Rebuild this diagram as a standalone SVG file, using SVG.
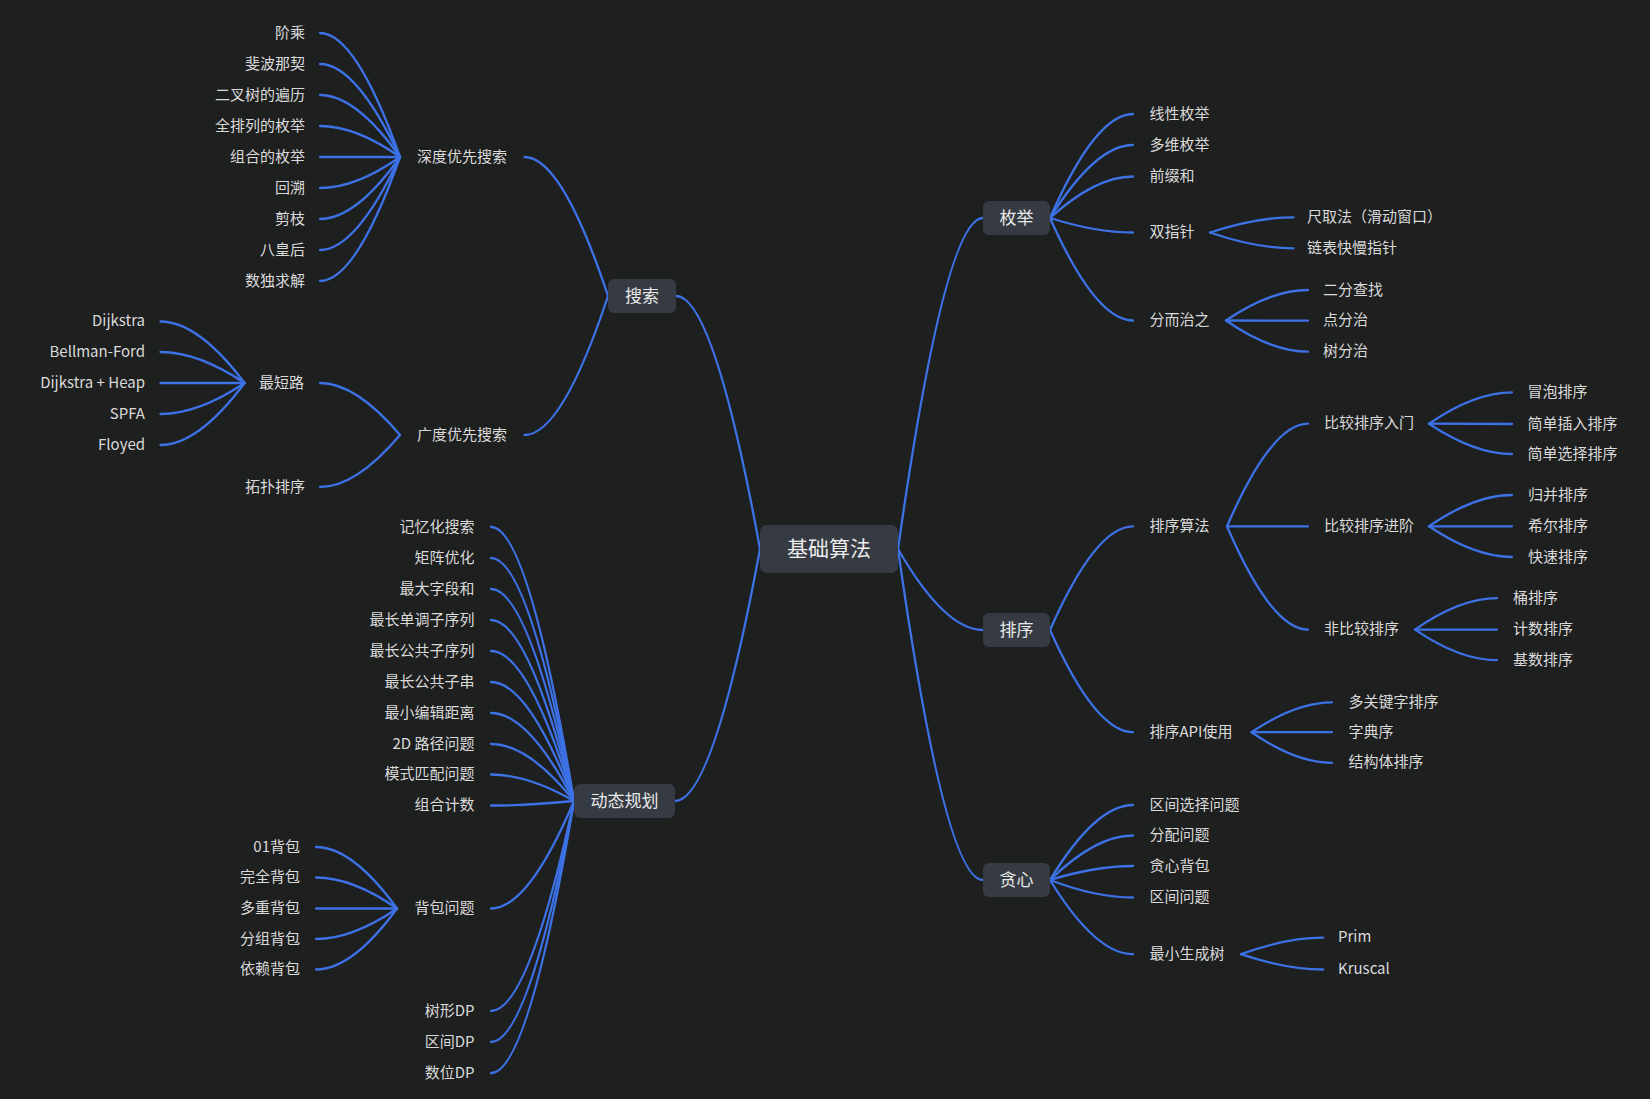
<svg xmlns="http://www.w3.org/2000/svg" width="1650" height="1099" viewBox="0 0 1650 1099">
<style>
.bg{fill:#1e1f1f}
.box{fill:#363b43}
.c path{fill:none;stroke:#3d71e6;stroke-width:2.3;stroke-linecap:round}
text{font-family:"Noto Sans CJK SC","Noto Sans",sans-serif;dominant-baseline:central;transform:translate(0px,-2px)}
.leaf{font-size:15px;fill:#dadada}
.l1{font-size:17px;fill:#e8e8e8;text-anchor:middle}
.root{font-size:21px;fill:#ececec;text-anchor:middle}
.e{text-anchor:end}
</style>
<rect class="bg" x="0" y="0" width="1650" height="1099"/>
<g id="connectors" class="c">
<path d="M760 549 Q713.8 296 676 296"/>
<path d="M760 549 Q713.3 801 675 801"/>
<path d="M898 549 Q944.8 218 983 218"/>
<path d="M898 549 Q944.8 630 983 630"/>
<path d="M898 549 Q944.8 880 983 880"/>
<path d="M608 296 Q562 157 524.5 157"/>
<path d="M608 296 Q562 435 524.5 435"/>
<path d="M400 157 Q356 33 320 33"/>
<path d="M400 157 Q356 64 320 64"/>
<path d="M400 157 Q356 95 320 95"/>
<path d="M400 157 Q356 126 320 126"/>
<path d="M400 157 Q356 157 320 157"/>
<path d="M400 157 Q356 188 320 188"/>
<path d="M400 157 Q356 219 320 219"/>
<path d="M400 157 Q356 250 320 250"/>
<path d="M400 157 Q356 281 320 281"/>
<path d="M400 435 Q356 383 320 383"/>
<path d="M400 435 Q356 487 320 487"/>
<path d="M244.6 383 Q198.3 321.5 160.5 321.5"/>
<path d="M244.6 383 Q198.3 352 160.5 352"/>
<path d="M244.6 383 Q198.3 383 160.5 383"/>
<path d="M244.6 383 Q198.3 414 160.5 414"/>
<path d="M244.6 383 Q198.3 445 160.5 445"/>
<path d="M574 801 Q528.4 527 491 527"/>
<path d="M574 801 Q528.4 558 491 558"/>
<path d="M574 801 Q528.4 589 491 589"/>
<path d="M574 801 Q528.4 620 491 620"/>
<path d="M574 801 Q528.4 651 491 651"/>
<path d="M574 801 Q528.4 682 491 682"/>
<path d="M574 801 Q528.4 713 491 713"/>
<path d="M574 801 Q528.4 744 491 744"/>
<path d="M574 801 Q528.4 774.5 491 774.5"/>
<path d="M574 801 Q528.4 805.5 491 805.5"/>
<path d="M574 801 Q528.4 908.5 491 908.5"/>
<path d="M574 801 Q528.4 1011 491 1011"/>
<path d="M574 801 Q528.4 1042 491 1042"/>
<path d="M574 801 Q528.4 1073 491 1073"/>
<path d="M397 908.5 Q352.5 847 316 847"/>
<path d="M397 908.5 Q352.5 877.5 316 877.5"/>
<path d="M397 908.5 Q352.5 908.5 316 908.5"/>
<path d="M397 908.5 Q352.5 939 316 939"/>
<path d="M397 908.5 Q352.5 969.5 316 969.5"/>
<path d="M1050 218 Q1095.6 114 1133 114"/>
<path d="M1050 218 Q1095.6 145 1133 145"/>
<path d="M1050 218 Q1095.6 176.5 1133 176.5"/>
<path d="M1050 218 Q1095.6 232.5 1133 232.5"/>
<path d="M1050 218 Q1095.6 320.5 1133 320.5"/>
<path d="M1210 232.5 Q1255.9 217.3 1293.5 217.3"/>
<path d="M1210 232.5 Q1255.9 248.3 1293.5 248.3"/>
<path d="M1226 320.5 Q1271.1 290 1308 290"/>
<path d="M1226 320.5 Q1271.1 320.7 1308 320.7"/>
<path d="M1226 320.5 Q1271.1 351.7 1308 351.7"/>
<path d="M1050 630 Q1095.6 526.3 1133 526.3"/>
<path d="M1050 630 Q1095.6 732.2 1133 732.2"/>
<path d="M1227 526.3 Q1271.5 423.7 1308 423.7"/>
<path d="M1227 526.3 Q1271.5 526.3 1308 526.3"/>
<path d="M1227 526.3 Q1271.5 629.6 1308 629.6"/>
<path d="M1429 423.7 Q1474.6 392.3 1512 392.3"/>
<path d="M1429 423.7 Q1474.6 424 1512 424"/>
<path d="M1429 423.7 Q1474.6 454 1512 454"/>
<path d="M1429 526.3 Q1474.6 495 1512 495"/>
<path d="M1429 526.3 Q1474.6 526.3 1512 526.3"/>
<path d="M1429 526.3 Q1474.6 557 1512 557"/>
<path d="M1415 629.6 Q1460.1 598.2 1497 598.2"/>
<path d="M1415 629.6 Q1460.1 629.6 1497 629.6"/>
<path d="M1415 629.6 Q1460.1 660.2 1497 660.2"/>
<path d="M1251.5 732.2 Q1295.8 702.3 1332 702.3"/>
<path d="M1251.5 732.2 Q1295.8 732.2 1332 732.2"/>
<path d="M1251.5 732.2 Q1295.8 762.8 1332 762.8"/>
<path d="M1050 880 Q1095.6 805 1133 805"/>
<path d="M1050 880 Q1095.6 835.5 1133 835.5"/>
<path d="M1050 880 Q1095.6 866 1133 866"/>
<path d="M1050 880 Q1095.6 897.5 1133 897.5"/>
<path d="M1050 880 Q1095.6 954.2 1133 954.2"/>
<path d="M1241 954.2 Q1286.1 937.7 1323 937.7"/>
<path d="M1241 954.2 Q1286.1 969.5 1323 969.5"/>
</g>

<g id="node-root"><rect class="box" x="760" y="525" width="138" height="48" rx="7"/><text class="root" x="829" y="549">基础算法</text></g>

<g id="node-search"><rect class="box" x="608" y="279" width="68" height="34" rx="6"/><text class="l1" x="642" y="296">搜索</text></g>
<g id="node-dp"><rect class="box" x="574" y="784" width="101" height="34" rx="6"/><text class="l1" x="624.5" y="801">动态规划</text></g>
<g id="node-enum"><rect class="box" x="983" y="201" width="67" height="34" rx="6"/><text class="l1" x="1016.5" y="218">枚举</text></g>
<g id="node-sort"><rect class="box" x="983" y="613" width="67" height="34" rx="6"/><text class="l1" x="1016.5" y="630">排序</text></g>
<g id="node-greedy"><rect class="box" x="983" y="863" width="67" height="34" rx="6"/><text class="l1" x="1016.5" y="880">贪心</text></g>

<g id="node-dfs"><text class="leaf" x="417" y="157">深度优先搜索</text></g>
<g id="node-bfs"><text class="leaf" x="417" y="435">广度优先搜索</text></g>

<g id="node-dfs-1"><text class="leaf e" x="305" y="33">阶乘</text></g>
<g id="node-dfs-2"><text class="leaf e" x="305" y="64">斐波那契</text></g>
<g id="node-dfs-3"><text class="leaf e" x="305" y="95">二叉树的遍历</text></g>
<g id="node-dfs-4"><text class="leaf e" x="305" y="126">全排列的枚举</text></g>
<g id="node-dfs-5"><text class="leaf e" x="305" y="157">组合的枚举</text></g>
<g id="node-dfs-6"><text class="leaf e" x="305" y="188">回溯</text></g>
<g id="node-dfs-7"><text class="leaf e" x="305" y="219">剪枝</text></g>
<g id="node-dfs-8"><text class="leaf e" x="305" y="250">八皇后</text></g>
<g id="node-dfs-9"><text class="leaf e" x="305" y="281">数独求解</text></g>

<g id="node-sp"><text class="leaf" x="259" y="383">最短路</text></g>
<g id="node-topo"><text class="leaf e" x="305" y="487">拓扑排序</text></g>
<g id="node-sp-1"><text class="leaf e" x="145" y="321.5">Dijkstra</text></g>
<g id="node-sp-2"><text class="leaf e" x="145" y="352">Bellman-Ford</text></g>
<g id="node-sp-3"><text class="leaf e" x="145" y="383">Dijkstra + Heap</text></g>
<g id="node-sp-4"><text class="leaf e" x="145" y="414">SPFA</text></g>
<g id="node-sp-5"><text class="leaf e" x="145" y="445">Floyed</text></g>

<g id="node-dp-1"><text class="leaf e" x="474.5" y="527">记忆化搜索</text></g>
<g id="node-dp-2"><text class="leaf e" x="474.5" y="558">矩阵优化</text></g>
<g id="node-dp-3"><text class="leaf e" x="474.5" y="589">最大字段和</text></g>
<g id="node-dp-4"><text class="leaf e" x="474.5" y="620">最长单调子序列</text></g>
<g id="node-dp-5"><text class="leaf e" x="474.5" y="651">最长公共子序列</text></g>
<g id="node-dp-6"><text class="leaf e" x="474.5" y="682">最长公共子串</text></g>
<g id="node-dp-7"><text class="leaf e" x="474.5" y="713">最小编辑距离</text></g>
<g id="node-dp-8"><text class="leaf e" x="474.5" y="744">2D 路径问题</text></g>
<g id="node-dp-9"><text class="leaf e" x="474.5" y="774.5">模式匹配问题</text></g>
<g id="node-dp-10"><text class="leaf e" x="474.5" y="805.5">组合计数</text></g>
<g id="node-knap"><text class="leaf e" x="474.5" y="908.5">背包问题</text></g>
<g id="node-dp-12"><text class="leaf e" x="474.5" y="1011">树形DP</text></g>
<g id="node-dp-13"><text class="leaf e" x="474.5" y="1042">区间DP</text></g>
<g id="node-dp-14"><text class="leaf e" x="474.5" y="1073">数位DP</text></g>

<g id="node-knap-1"><text class="leaf e" x="300" y="847">01背包</text></g>
<g id="node-knap-2"><text class="leaf e" x="300" y="877.5">完全背包</text></g>
<g id="node-knap-3"><text class="leaf e" x="300" y="908.5">多重背包</text></g>
<g id="node-knap-4"><text class="leaf e" x="300" y="939">分组背包</text></g>
<g id="node-knap-5"><text class="leaf e" x="300" y="969.5">依赖背包</text></g>

<g id="node-enum-1"><text class="leaf" x="1149.5" y="114">线性枚举</text></g>
<g id="node-enum-2"><text class="leaf" x="1149.5" y="145">多维枚举</text></g>
<g id="node-enum-3"><text class="leaf" x="1149.5" y="176.5">前缀和</text></g>
<g id="node-twoptr"><text class="leaf" x="1149.5" y="232.5">双指针</text></g>
<g id="node-dc"><text class="leaf" x="1149.5" y="320.5">分而治之</text></g>
<g id="node-twoptr-1"><text class="leaf" x="1307" y="217.3">尺取法（滑动窗口）</text></g>
<g id="node-twoptr-2"><text class="leaf" x="1307" y="248.3">链表快慢指针</text></g>
<g id="node-dc-1"><text class="leaf" x="1323" y="290">二分查找</text></g>
<g id="node-dc-2"><text class="leaf" x="1323" y="320.7">点分治</text></g>
<g id="node-dc-3"><text class="leaf" x="1323" y="351.7">树分治</text></g>

<g id="node-sortalg"><text class="leaf" x="1149.5" y="526.3">排序算法</text></g>
<g id="node-sortapi"><text class="leaf" x="1149.5" y="732.2">排序API使用</text></g>
<g id="node-cmp1"><text class="leaf" x="1324" y="423.7">比较排序入门</text></g>
<g id="node-cmp2"><text class="leaf" x="1324" y="526.3">比较排序进阶</text></g>
<g id="node-noncmp"><text class="leaf" x="1324" y="629.6">非比较排序</text></g>
<g id="node-cmp1-1"><text class="leaf" x="1527.5" y="392.3">冒泡排序</text></g>
<g id="node-cmp1-2"><text class="leaf" x="1527.5" y="424">简单插入排序</text></g>
<g id="node-cmp1-3"><text class="leaf" x="1527.5" y="454">简单选择排序</text></g>
<g id="node-cmp2-1"><text class="leaf" x="1528" y="495">归并排序</text></g>
<g id="node-cmp2-2"><text class="leaf" x="1528" y="526.3">希尔排序</text></g>
<g id="node-cmp2-3"><text class="leaf" x="1528" y="557">快速排序</text></g>
<g id="node-noncmp-1"><text class="leaf" x="1513" y="598.2">桶排序</text></g>
<g id="node-noncmp-2"><text class="leaf" x="1513" y="629.6">计数排序</text></g>
<g id="node-noncmp-3"><text class="leaf" x="1513" y="660.2">基数排序</text></g>
<g id="node-api-1"><text class="leaf" x="1348.5" y="702.3">多关键字排序</text></g>
<g id="node-api-2"><text class="leaf" x="1348.5" y="732.2">字典序</text></g>
<g id="node-api-3"><text class="leaf" x="1348.5" y="762.8">结构体排序</text></g>

<g id="node-greedy-1"><text class="leaf" x="1149.5" y="805">区间选择问题</text></g>
<g id="node-greedy-2"><text class="leaf" x="1149.5" y="835.5">分配问题</text></g>
<g id="node-greedy-3"><text class="leaf" x="1149.5" y="866">贪心背包</text></g>
<g id="node-greedy-4"><text class="leaf" x="1149.5" y="897.5">区间问题</text></g>
<g id="node-mst"><text class="leaf" x="1149.5" y="954.2">最小生成树</text></g>
<g id="node-mst-1"><text class="leaf" x="1338" y="937.7">Prim</text></g>
<g id="node-mst-2"><text class="leaf" x="1338" y="969.5">Kruscal</text></g>
</svg>
